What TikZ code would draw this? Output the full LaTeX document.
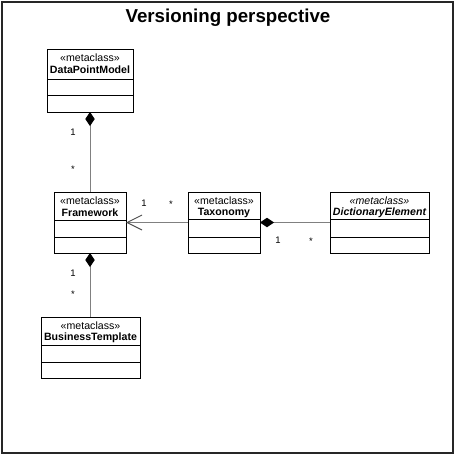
\documentclass[tikz,border=0pt]{standalone}
\usepackage{fontspec}
\setmainfont{Liberation Sans}
\usetikzlibrary{arrows.meta}
\tikzset{
  clsbox/.style={draw=black, line width=0.9pt, fill=white, inner sep=0pt, outer sep=0pt},
  clsline/.style={draw=black, line width=0.9pt},
  clstext/.style={inner sep=0pt, font=\fontsize{10.6}{12}\selectfont},
  conn/.style={draw=black!50, line width=1pt},
  comp/.style={conn, {Diamond[length=14pt, width=9.5pt, fill=black, color=black]}-},
  nav/.style={conn, -{Straight Barb[length=15pt, width=15pt, color=black!70, line width=0.9pt]}},
  mult/.style={inner sep=0pt, font=\fontsize{9.5}{10}\selectfont},
  frame/.style={draw=black!85, line width=1.7pt},
  titletext/.style={inner sep=0pt, font=\fontsize{18.7}{22}\selectfont\bfseries}
}
\newcommand\umlcls[9]{%
  \node[clsbox, minimum width={(#4-#2)*1pt}, minimum height={(#5-#3)*1pt}] (#1) at ({(#2+#4)/2},{(#3+#5)/2}) {};
  \draw[clsline] ([yshift={-(#6-#3)*1pt}]#1.north west) -- ([yshift={-(#6-#3)*1pt}]#1.north east);
  \draw[clsline] ([yshift={-(#7-#3)*1pt}]#1.north west) -- ([yshift={-(#7-#3)*1pt}]#1.north east);
  \node[clstext] (#1-st) at ([yshift=-8.5pt]#1.north) {#8};
  \node[clstext] (#1-nm) at ([yshift=-21pt]#1.north) {#9};
}
\begin{document}
\begin{tikzpicture}[x=1pt, y=-1pt]
\useasboundingbox (0,0) rectangle (456,456);
\draw[frame] (2,2) rectangle (453,453);
\node[titletext] (title) at (228,18) {Versioning perspective};

\umlcls{dpm}{47}{49}{133}{112}{79}{95}{«metaclass»}{\textbf{DataPointModel}}
\umlcls{fw}{54}{192}{126}{253}{220}{237}{«metaclass»}{\textbf{Framework}}
\umlcls{tax}{188}{192}{260}{253}{219}{237}{«metaclass»}{\textbf{Taxonomy}}
\umlcls{de}{330}{192}{429}{253}{219}{237}{\itshape«metaclass»}{\bfseries\itshape DictionaryElement}
\umlcls{bt}{41}{317}{140}{378}{345}{362}{«metaclass»}{\textbf{BusinessTemplate}}

\draw[comp] (dpm.south) -- (fw.north);
\draw[comp] (fw.south) -- (bt.north -| fw.south);
\draw[nav] (tax.west) -- (fw.east);
\draw[comp] (tax.east) -- (de.west);

\node[mult] (m1) at (73,132) {1};
\node[mult] (m2) at (73,169) {*};
\node[mult] (m3) at (73,273) {1};
\node[mult] (m4) at (73,294) {*};
\node[mult] (m5) at (144,203) {1};
\node[mult] (m6) at (171,204) {*};
\node[mult] (m7) at (278,240) {1};
\node[mult] (m8) at (311,241) {*};
\end{tikzpicture}
\end{document}
